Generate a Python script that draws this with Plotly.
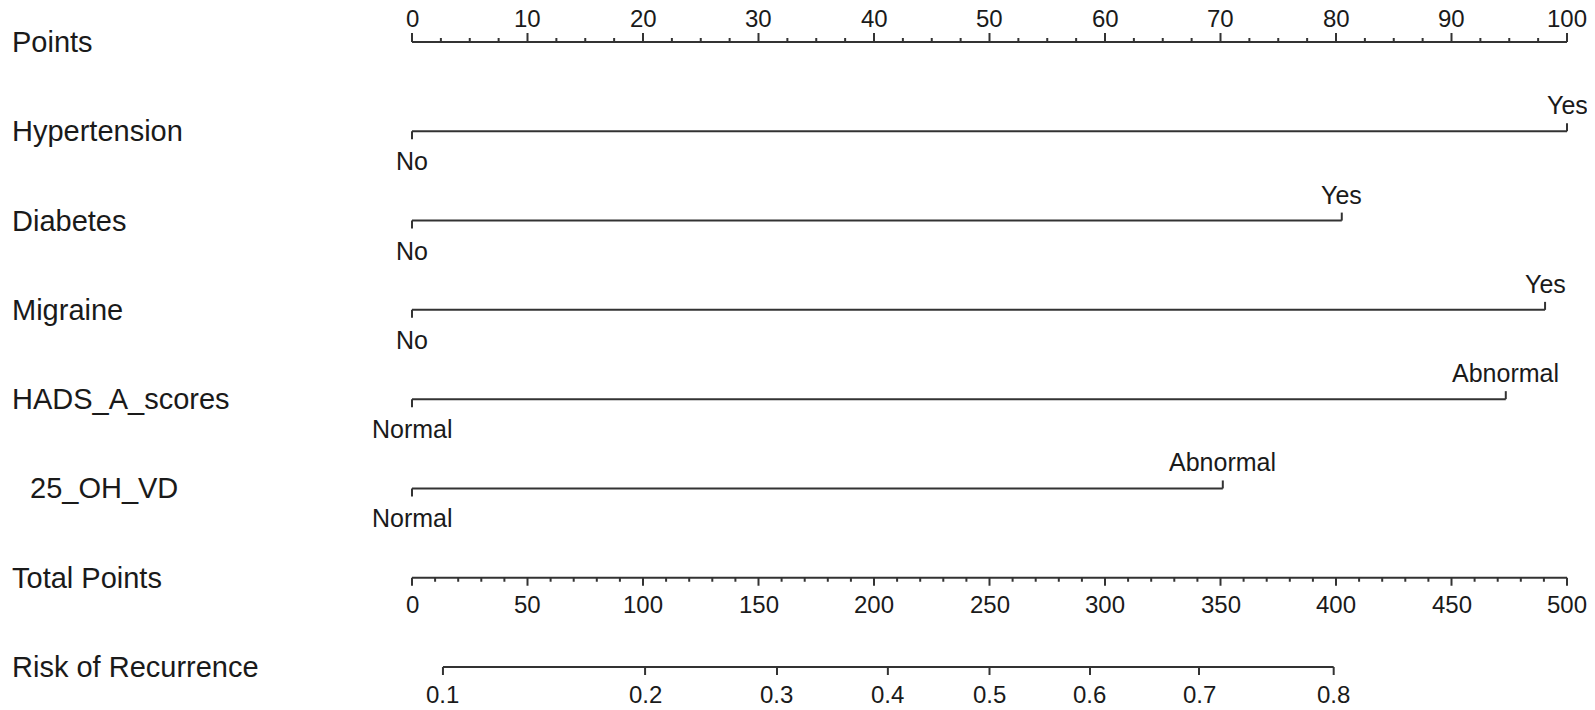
import plotly.graph_objects as go

# ---------------- data ----------------
points_ticks = [0, 10, 20, 30, 40, 50, 60, 70, 80, 90, 100]
points_minor_step = 2.5

variables = ["Hypertension", "Diabetes", "Migraine", "HADS_A_scores", "25_OH_VD"]
level_low = ["No", "No", "No", "Normal", "Normal"]
level_high = ["Yes", "Yes", "Yes", "Abnormal", "Abnormal"]
low_points = [0, 0, 0, 0, 0]
high_points = [100, 80.5, 98.1, 94.7, 70.2]

total_ticks = [0, 50, 100, 150, 200, 250, 300, 350, 400, 450, 500]
total_minor_step = 10

risk_labels = ["0.1", "0.2", "0.3", "0.4", "0.5", "0.6", "0.7", "0.8"]
risk_total_points = [13.4, 100.9, 158, 206, 250, 293.5, 340.7, 399]

row_names = ["Points"] + variables + ["Total Points", "Risk of Recurrence"]

# ---------------- style ----------------
OFF = 8  # page body margin
W, H = 1595 - OFF, 710 - OFF
LINE = "#333333"
TXT = "#1a1a1a"
FONT = "Liberation Sans, Arial, sans-serif"
LBL_SIZE = 29
NUM_SIZE = 24
CAT_SIZE = 25
X0_PX, X100_PX = 412 - OFF, 1567 - OFF
ROW0_PX, ROW_STEP_PX = 42 - OFF, 89.29

ppx = (X100_PX - X0_PX) / 100.0
xr = [-X0_PX / ppx, (W - X0_PX) / ppx]
yr = [(H - ROW0_PX) / ROW_STEP_PX, -ROW0_PX / ROW_STEP_PX]
px_to_row = 1.0 / ROW_STEP_PX

fig = go.Figure()
ann = []


def seg_trace(xs, ys, xaxis="x"):
    fig.add_trace(go.Scatter(x=xs, y=ys, mode="lines", xaxis=xaxis, yaxis="y",
                             line=dict(color=LINE, width=2), hoverinfo="skip",
                             showlegend=False))


def font(sz):
    return dict(size=sz, color=TXT, family=FONT)


# Points axis (row 0), ticks up
r = 0
xs, ys = [points_ticks[0], points_ticks[-1], None], [r, r, None]
v = 0.0
while v <= 100 + 1e-9:
    major = abs(v - round(v / 10) * 10) < 1e-9
    L = (9 if major else 4) * px_to_row
    xs += [v, v, None]; ys += [r, r - L, None]
    v += points_minor_step
seg_trace(xs, ys)
for t in points_ticks:
    ann.append(dict(x=t, y=r, xref="x", yref="y", text=str(t), showarrow=False,
                    yshift=24, font=font(NUM_SIZE)))

# variable rows
for i, name in enumerate(variables):
    r = i + 1
    lo, hi = low_points[i], high_points[i]
    xs = [lo, hi, None, lo, lo, None, hi, hi]
    ys = [r, r, None, r, r + 8 * px_to_row, None, r, r - 8 * px_to_row]
    seg_trace(xs, ys)
    ann.append(dict(x=lo, y=r, xref="x", yref="y", text=level_low[i], showarrow=False,
                    yshift=-30, font=font(CAT_SIZE)))
    ann.append(dict(x=hi, y=r, xref="x", yref="y", text=level_high[i], showarrow=False,
                    yshift=26, font=font(CAT_SIZE)))

# Total points axis (row 6), ticks down, on xaxis2
r = 6
xs, ys = [total_ticks[0], total_ticks[-1], None], [r, r, None]
v = 0
while v <= 500:
    major = v % 50 == 0
    L = (8 if major else 4) * px_to_row
    xs += [v, v, None]; ys += [r, r + L, None]
    v += total_minor_step
seg_trace(xs, ys, "x2")
for t in total_ticks:
    ann.append(dict(x=t, y=r, xref="x2", yref="y", text=str(t), showarrow=False,
                    yshift=-27, font=font(NUM_SIZE)))

# Risk axis (row 7) on xaxis2
r = 7
xs, ys = [risk_total_points[0], risk_total_points[-1], None], [r, r, None]
for p in risk_total_points:
    xs += [p, p, None]; ys += [r, r + 8 * px_to_row, None]
seg_trace(xs, ys, "x2")
for lab, p in zip(risk_labels, risk_total_points):
    ann.append(dict(x=p, y=r, xref="x2", yref="y", text=lab, showarrow=False,
                    yshift=-27, font=font(NUM_SIZE)))

# row labels
for i, name in enumerate(row_names):
    xpx = (28 if name == "25_OH_VD" else 10) - OFF
    ann.append(dict(x=xpx / W, y=i, xref="paper", yref="y", text=name, showarrow=False,
                    xanchor="left", font=font(LBL_SIZE)))

fig.update_layout(
    width=W, height=H,
    margin=dict(l=0, r=0, t=0, b=0),
    paper_bgcolor="white", plot_bgcolor="white",
    xaxis=dict(range=xr, visible=False, fixedrange=True),
    xaxis2=dict(range=[xr[0] * 5, xr[1] * 5], overlaying="x", visible=False, fixedrange=True),
    yaxis=dict(range=yr, visible=False, fixedrange=True),
    annotations=ann,
    showlegend=False,
)

fig.write_html("out.html")
